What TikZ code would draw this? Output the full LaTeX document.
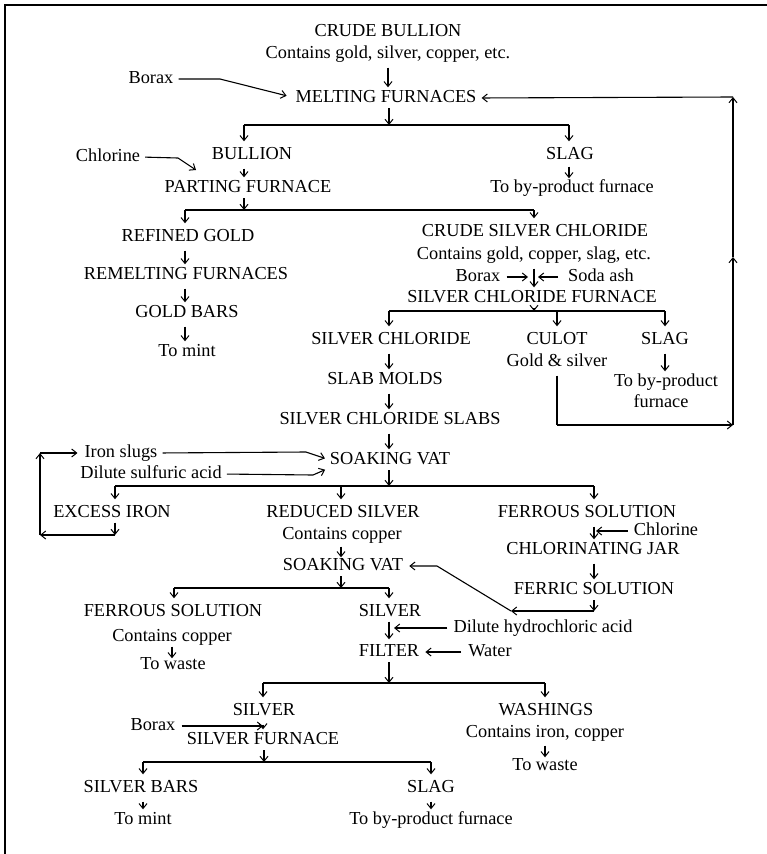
\documentclass[tikz,border=0pt]{standalone}
\usepackage{fontspec}
\setmainfont{Liberation Serif}
\usetikzlibrary{arrows.meta}
\begin{document}
\begin{tikzpicture}[x=1pt,y=-1pt,
  every node/.style={inner sep=0pt, text height=12pt, text depth=3pt, font=\fontsize{18.3pt}{20pt}\selectfont},
  ln/.style={line width=1.1pt},
  arr/.style={line width=1.1pt, -{Straight Barb[length=5pt,width=8pt,line width=1pt]}},
  dn/.style={arr, shorten <=6pt, shorten >=3pt},
  br/.style={arr, shorten >=6pt},
  tobar/.style={arr, shorten <=2.5pt},
  frame/.style={line width=1.5pt}
]
\useasboundingbox (0,0) rectangle (767,854);
\draw[frame] (5,854) -- (5,5) -- (767,5);

% nodes
\node (cb) at (388,32) {CRUDE BULLION};
\node (cbc) at (388,54) {Contains gold, silver, copper, etc.};
\node (borax1) at (151,79) {Borax};
\node (melt) at (386,98) {MELTING FURNACES};
\node (bullion) at (252,155) {BULLION};
\node (chl1) at (108,157) {Chlorine};
\node (slag1) at (570,155) {SLAG};
\node (parting) at (248,188) {PARTING FURNACE};
\node (byp1) at (572,188) {To by-product furnace};
\node (rgold) at (188,237) {REFINED GOLD};
\node (csc) at (535,232) {CRUDE SILVER CHLORIDE};
\node (cscc) at (534,255) {Contains gold, copper, slag, etc.};
\node (remelt) at (186,275) {REMELTING FURNACES};
\node (borax2) at (478,277) {Borax};
\node (soda) at (601,277) {Soda ash};
\node (scf) at (532,298) {SILVER CHLORIDE FURNACE};
\node (gbars) at (187,313) {GOLD BARS};
\node (mint1) at (187,352) {To mint};
\node (sc) at (391,340) {SILVER CHLORIDE};
\node (culot) at (557,340) {CULOT};
\node (slag2) at (665,340) {SLAG};
\node (gs) at (557,362) {Gold \& silver};
\node (byp2a) at (666,382) {To by-product};
\node (byp2b) at (661,403) {furnace};
\node (slab) at (385,380) {SLAB MOLDS};
\node (scs) at (390,420) {SILVER CHLORIDE SLABS};
\node (iron) at (121,453) {Iron slugs};
\node (dsa) at (151,474) {Dilute sulfuric acid};
\node (vat1) at (390,460) {SOAKING VAT};
\node (excess) at (112,513) {EXCESS IRON};
\node (reduced) at (343,513) {REDUCED SILVER};
\node (ferrous1) at (587,513) {FERROUS SOLUTION};
\node (cc) at (342,535) {Contains copper};
\node (chl2) at (666,531) {Chlorine};
\node (cjar) at (593,550) {CHLORINATING JAR};
\node (vat2) at (343,566) {SOAKING VAT};
\node (ferric) at (594,590) {FERRIC SOLUTION};
\node (ferrous2) at (173,612) {FERROUS SOLUTION};
\node (silver2) at (390,612) {SILVER};
\node (cc2) at (172,637) {Contains copper};
\node (waste1) at (173,665) {To waste};
\node (dha) at (543,628) {Dilute hydrochloric acid};
\node (filter) at (389,652) {FILTER};
\node (water) at (490,652) {Water};
\node (silver3) at (264,711) {SILVER};
\node (wash) at (546,711) {WASHINGS};
\node (borax3) at (153,726) {Borax};
\node (sfur) at (263,740) {SILVER FURNACE};
\node (cic) at (545,733) {Contains iron, copper};
\node (waste2) at (545,766) {To waste};
\node (sbars) at (141,788) {SILVER BARS};
\node (slag3) at (431,788) {SLAG};
\node (mint2) at (143,820) {To mint};
\node (byp3) at (431,820) {To by-product furnace};

% coordinates
\coordinate (bx1) at (220,79);
\coordinate (m0) at (389,125);
\coordinate (mL) at (244,125);
\coordinate (mR) at (569,125);
\coordinate (cx1) at (178,158);
\coordinate (cx2) at (196,170);
\coordinate (p0) at (244,210);
\coordinate (pL) at (185,210);
\coordinate (pR) at (534,210);
\coordinate (bs) at (534,277);
\coordinate (s0) at (534,311);
\coordinate (sL) at (389,311);
\coordinate (sM) at (557,311);
\coordinate (sR) at (665,311);
\coordinate (cl1) at (557,425);
\coordinate (rc) at (733,425);
\coordinate (rmid) at (733,257);
\coordinate (rtop) at (733,97);
\coordinate (ib) at (306,452);
\coordinate (db) at (313,475);
\coordinate (v0) at (389,486);
\coordinate (vL) at (115,486);
\coordinate (vM) at (341,486);
\coordinate (vR) at (594,486);
\coordinate (lp1) at (115,535);
\coordinate (lp2) at (40,535);
\coordinate (lp3) at (40,453);
\coordinate (chp) at (594,531);
\coordinate (f1) at (594,611);
\coordinate (f2) at (511,611);
\coordinate (f3) at (437,566);
\coordinate (w0) at (341,588);
\coordinate (wL) at (174,588);
\coordinate (wR) at (389,588);
\coordinate (hp) at (389,628);
\coordinate (g0) at (389,683);
\coordinate (gL) at (263,683);
\coordinate (gR) at (545,683);
\coordinate (bx3) at (263,726);
\coordinate (h0) at (264,762);
\coordinate (hL) at (143,762);
\coordinate (hR) at (431,762);

% top
\draw[dn] (cbc.south) -- (cbc.south |- melt.north);
\draw[arr, shorten <=5pt, shorten >=9pt] (borax1.east) -- (bx1) -- (melt.west);
\draw[tobar] (melt.south -| m0) -- (m0);
\draw[ln] (mL) -- (mR);
\draw[br] (mL) -- (bullion.north -| mL);
\draw[br] (mR) -- (slag1.north -| mR);
\draw[arr, shorten <=5pt] (chl1.east) -- (cx1) -- (cx2);
\draw[dn] (bullion.south -| mL) -- (parting.north -| mL);
\draw[arr, shorten <=4pt, shorten >=2pt] (slag1.south -| mR) -- (byp1.north -| mR);

% parting
\draw[tobar] (parting.south -| p0) -- (p0);
\draw[ln] (pL) -- (pR);
\draw[br] (pL) -- (rgold.north -| pL);
\draw[br] (pR) -- (csc.north -| pR);
\draw[dn] (rgold.south -| pL) -- (remelt.north -| pL);
\draw[dn] (remelt.south -| pL) -- (gbars.north -| pL);
\draw[dn] (gbars.south -| pL) -- (mint1.north -| pL);

% silver chloride furnace
\draw[dn] (cscc.south -| pR) -- (scf.north -| pR);
\draw[arr, shorten <=6pt, shorten >=6pt] (borax2.east) -- (bs);
\draw[arr, shorten <=10pt, shorten >=4pt] (soda.west) -- (bs);
\draw[tobar] (scf.south -| s0) -- (s0);
\draw[ln] (sL) -- (sR);
\draw[br] (sL) -- (sc.north -| sL);
\draw[br] (sM) -- (culot.north -| sM);
\draw[br] (sR) -- (slag2.north -| sR);
\draw[dn] (slag2.south -| sR) -- (byp2a.north -| sR);
\draw[dn] (sc.south -| sL) -- (slab.north -| sL);
\draw[dn] (slab.south -| sL) -- (scs.north -| sL);
\draw[dn] (scs.south -| sL) -- (vat1.north -| sL);

% recycle loop to melting furnaces
\draw[ln, shorten <=6pt] (gs.south -| sM) -- (cl1);
\draw[arr] (cl1) -- (rc);
\draw[arr] (rc) -- (rmid);
\draw[arr] (rmid) -- (rtop);
\draw[arr, shorten >=5pt] (rtop) -- (melt.east);

% soaking vat 1
\draw[arr, shorten <=5pt, shorten >=5pt] (iron.east) -- (ib) -- (vat1.west);
\draw[arr, shorten <=5pt, shorten >=5pt] (dsa.east) -- (db) -- (vat1.south west);
\draw[tobar] (vat1.south -| v0) -- (v0);
\draw[ln] (vL) -- (vR);
\draw[br] (vL) -- (excess.north -| vL);
\draw[br] (vM) -- (reduced.north -| vM);
\draw[br] (vR) -- (ferrous1.north -| vR);
\draw[arr, shorten <=2pt] (excess.south -| lp1) -- (lp1);
\draw[arr] (lp1) -- (lp2);
\draw[arr] (lp2) -- (lp3);
\draw[arr, shorten >=7pt] (lp3) -- (iron.west);

% ferrous / ferric
\draw[dn] (ferrous1.south -| vR) -- (cjar.north -| vR);
\draw[arr, shorten <=6pt, shorten >=2pt] (chl2.west) -- (chp);
\draw[dn] (cjar.south -| vR) -- (ferric.north -| vR);
\draw[arr, shorten <=2.5pt] (ferric.south -| f1) -- (f1);
\draw[arr] (f1) -- (f2);
\draw[arr, shorten >=6pt] (f2) -- (f3) -- (vat2.east);

% soaking vat 2
\draw[arr, shorten <=4pt, shorten >=1pt] (cc.south -| vM) -- (vat2.north -| vM);
\draw[tobar] (vat2.south -| w0) -- (w0);
\draw[ln] (wL) -- (wR);
\draw[br] (wL) -- (ferrous2.north -| wL);
\draw[br] (wR) -- (silver2.north -| wR);
\draw[arr, shorten <=2pt, shorten >=-1pt] (cc2.south) -- (waste1.north -| cc2);
\draw[arr, shorten <=2pt, shorten >=5pt] (silver2.south -| wR) -- (filter.north -| wR);
\draw[arr, shorten <=6pt, shorten >=5pt] (dha.west) -- (hp);
\draw[arr, shorten <=7pt, shorten >=6pt] (water.west) -- (filter.east);

% filter
\draw[tobar] (filter.south -| g0) -- (g0);
\draw[ln] (gL) -- (gR);
\draw[br] (gL) -- (silver3.north -| gL);
\draw[br] (gR) -- (wash.north -| gR);
\draw[dn] (silver3.south -| gL) -- (sfur.north -| gL);
\draw[arr, shorten <=6pt] (borax3.east) -- (bx3);
\draw[arr, shorten <=5pt, shorten >=1pt] (cic.south -| gR) -- (waste2.north -| gR);

% silver furnace
\draw[tobar] (sfur.south -| h0) -- (h0);
\draw[ln] (hL) -- (hR);
\draw[br] (hL) -- (sbars.north -| hL);
\draw[br] (hR) -- (slag3.north -| hR);
\draw[dn] (sbars.south -| hL) -- (mint2.north -| hL);
\draw[dn] (slag3.south -| hR) -- (byp3.north -| hR);
\end{tikzpicture}
\end{document}
